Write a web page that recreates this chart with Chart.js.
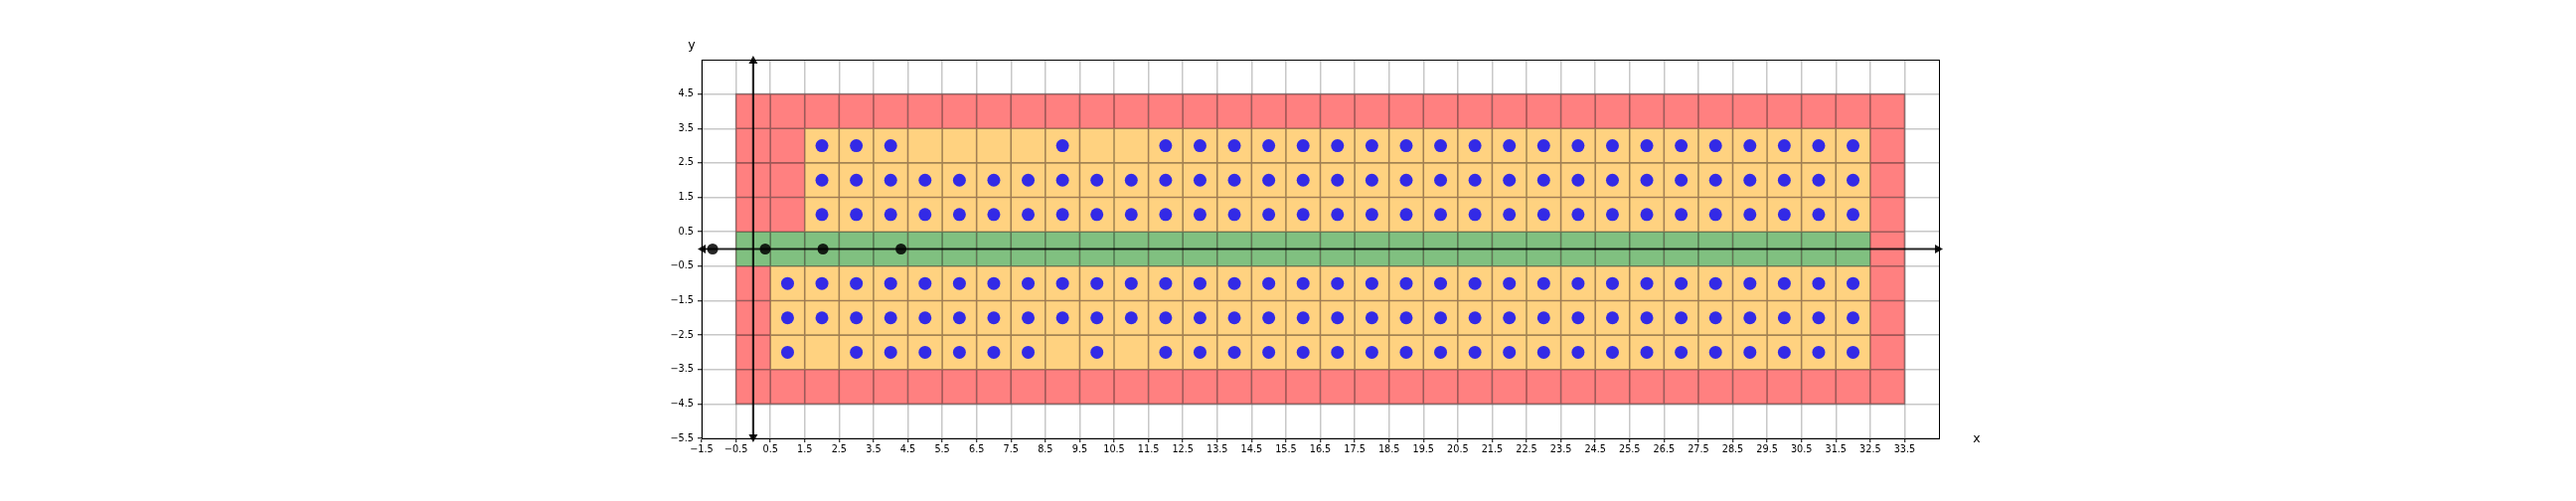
<!DOCTYPE html>
<html>
<head>
<meta charset="utf-8">
<script src="https://cdn.jsdelivr.net/npm/chart.js@4"></script>
<style>body{margin:0;background:#fff}</style>
</head>
<body>
<canvas id="gridChart" width="2592" height="504"></canvas>
<script>
// tick positions
const xTicks = [-1.5, -0.5, 0.5, 1.5, 2.5, 3.5, 4.5, 5.5, 6.5, 7.5, 8.5, 9.5, 10.5, 11.5,
  12.5, 13.5, 14.5, 15.5, 16.5, 17.5, 18.5, 19.5, 20.5, 21.5, 22.5, 23.5, 24.5, 25.5,
  26.5, 27.5, 28.5, 29.5, 30.5, 31.5, 32.5, 33.5];
const yTicks = [-5.5, -4.5, -3.5, -2.5, -1.5, -0.5, 0.5, 1.5, 2.5, 3.5, 4.5];

// cell blocks: [x from, x to, y from, y to], cells are centred on integers
const redBlock = [0, 33, -4, 4];
const orangeBlocks = [[2, 32, 1, 3], [1, 32, -3, -1]];
const greenBlock = [0, 32, 0, 0];

// blue dots, one list of x values per row
const dotRows = [3, 2, 1, -1, -2, -3];
const dotCols = [
  [2, 3, 4, 9, 12, 13, 14, 15, 16, 17, 18, 19, 20, 21, 22, 23, 24, 25, 26, 27, 28, 29, 30, 31, 32],
  [2, 3, 4, 5, 6, 7, 8, 9, 10, 11, 12, 13, 14, 15, 16, 17, 18, 19, 20, 21, 22, 23, 24, 25, 26, 27, 28, 29, 30, 31, 32],
  [2, 3, 4, 5, 6, 7, 8, 9, 10, 11, 12, 13, 14, 15, 16, 17, 18, 19, 20, 21, 22, 23, 24, 25, 26, 27, 28, 29, 30, 31, 32],
  [1, 2, 3, 4, 5, 6, 7, 8, 9, 10, 11, 12, 13, 14, 15, 16, 17, 18, 19, 20, 21, 22, 23, 24, 25, 26, 27, 28, 29, 30, 31, 32],
  [1, 2, 3, 4, 5, 6, 7, 8, 9, 10, 11, 12, 13, 14, 15, 16, 17, 18, 19, 20, 21, 22, 23, 24, 25, 26, 27, 28, 29, 30, 31, 32],
  [1, 3, 4, 5, 6, 7, 8, 10, 12, 13, 14, 15, 16, 17, 18, 19, 20, 21, 22, 23, 24, 25, 26, 27, 28, 29, 30, 31, 32]
];

// black points sitting on the x axis
const axisPoints = [-1.18, 0.35, 2.03, 4.3];

const dots = [];
dotRows.forEach((yv, i) => dotCols[i].forEach(xv => dots.push({ x: xv, y: yv })));

const fmt = v => v.toFixed(1).replace('-', '\u2212');

function drawArrow(ctx, ax, ay, bx, by) {
  const len = Math.hypot(bx - ax, by - ay);
  const ux = (bx - ax) / len, uy = (by - ay) / len;
  ctx.beginPath();
  ctx.moveTo(ax, ay);
  ctx.lineTo(bx, by);
  ctx.stroke();
  [[bx, by, 1], [ax, ay, -1]].forEach(([px, py, d]) => {
    const tx = px + d * ux * 4, ty = py + d * uy * 4;
    const bxx = px - d * ux * 4, byy = py - d * uy * 4;
    ctx.beginPath();
    ctx.moveTo(tx, ty);
    ctx.lineTo(bxx - uy * 4.5, byy + ux * 4.5);
    ctx.lineTo(bxx + uy * 4.5, byy - ux * 4.5);
    ctx.closePath();
    ctx.fill();
  });
}

const cellsPlugin = {
  id: 'cells',
  beforeDatasetsDraw(chart) {
    const { ctx, scales: { x, y } } = chart;
    const edges = new Path2D();
    const fillBlock = (b, color) => {
      ctx.fillStyle = color;
      for (let cx = b[0]; cx <= b[1]; cx++) {
        for (let cy = b[2]; cy <= b[3]; cy++) {
          const l = x.getPixelForValue(cx - 0.5), r = x.getPixelForValue(cx + 0.5);
          const t = y.getPixelForValue(cy + 0.5), bt = y.getPixelForValue(cy - 0.5);
          ctx.fillRect(l, t, r - l, bt - t);
          edges.rect(l, t, r - l, bt - t);
        }
      }
    };
    ctx.save();
    fillBlock(redBlock, 'rgb(255,128,128)');
    orangeBlocks.forEach(b => fillBlock(b, 'rgb(255,210,128)'));
    fillBlock(greenBlock, 'rgb(128,192,128)');
    ctx.strokeStyle = 'rgba(0,0,0,0.36)';
    ctx.lineWidth = 1.6;
    ctx.stroke(edges);

    ctx.strokeStyle = 'rgba(0,0,0,0.85)';
    ctx.fillStyle = 'rgba(0,0,0,0.9)';
    ctx.lineWidth = 2.2;
    drawArrow(ctx, x.getPixelForValue(x.min), y.getPixelForValue(0), x.getPixelForValue(x.max), y.getPixelForValue(0));
    drawArrow(ctx, x.getPixelForValue(0), y.getPixelForValue(y.min), x.getPixelForValue(0), y.getPixelForValue(y.max));
    ctx.restore();
  },
  afterDraw(chart) {
    const { ctx, chartArea: a } = chart;
    ctx.save();
    ctx.strokeStyle = '#000';
    ctx.lineWidth = 1;
    ctx.strokeRect(Math.round(a.left) + 0.5, Math.round(a.top) + 0.5,
      Math.round(a.right - a.left), Math.round(a.bottom - a.top));
    ctx.fillStyle = '#000';
    ctx.font = '12.5px "DejaVu Sans"';
    ctx.textAlign = 'center';
    ctx.textBaseline = 'alphabetic';
    ctx.fillText('y', a.left - 10, a.top - 11.5);
    ctx.fillText('x', a.right + 38, a.bottom + 4);
    ctx.restore();
  }
};

const tickFont = { family: 'DejaVu Sans', size: 9.7 };

new Chart(document.getElementById('gridChart'), {
  type: 'scatter',
  data: {
    datasets: [{
      label: 'dots',
      data: dots,
      pointRadius: 6.5,
      pointHoverRadius: 6.5,
      backgroundColor: 'rgba(0,0,255,0.8)',
      borderWidth: 0
    }, {
      label: 'axis points',
      data: axisPoints.map(v => ({ x: v, y: 0 })),
      pointRadius: 5.5,
      pointHoverRadius: 5.5,
      backgroundColor: 'rgba(0,0,0,0.85)',
      borderWidth: 0
    }]
  },
  options: {
    responsive: false,
    animation: false,
    layout: { padding: { left: 666, right: 641, top: 60, bottom: 33 } },
    plugins: { legend: { display: false }, tooltip: { enabled: false } },
    scales: {
      x: {
        type: 'linear',
        min: -1.5,
        max: 34.5,
        afterBuildTicks: s => { s.ticks = xTicks.map(v => ({ value: v })); },
        afterFit: s => { s.height = 30; },
        ticks: { font: tickFont, color: '#000', padding: 2, maxRotation: 0, autoSkip: false, callback: v => fmt(v) },
        grid: { color: 'rgba(176,176,176,0.7)', lineWidth: 1.5, tickColor: '#000', tickLength: 4, tickWidth: 1 },
        border: { color: '#000', width: 1 }
      },
      y: {
        type: 'linear',
        min: -5.5,
        max: 5.5,
        afterBuildTicks: s => { s.ticks = yTicks.map(v => ({ value: v })); },
        afterFit: s => { s.width = 40; },
        ticks: { font: tickFont, color: '#000', padding: 4, autoSkip: false, callback: v => fmt(v) },
        grid: { color: 'rgba(176,176,176,0.7)', lineWidth: 1.5, tickColor: '#000', tickLength: 4, tickWidth: 1 },
        border: { color: '#000', width: 1 }
      }
    }
  },
  plugins: [cellsPlugin]
});
</script>
</body>
</html>
